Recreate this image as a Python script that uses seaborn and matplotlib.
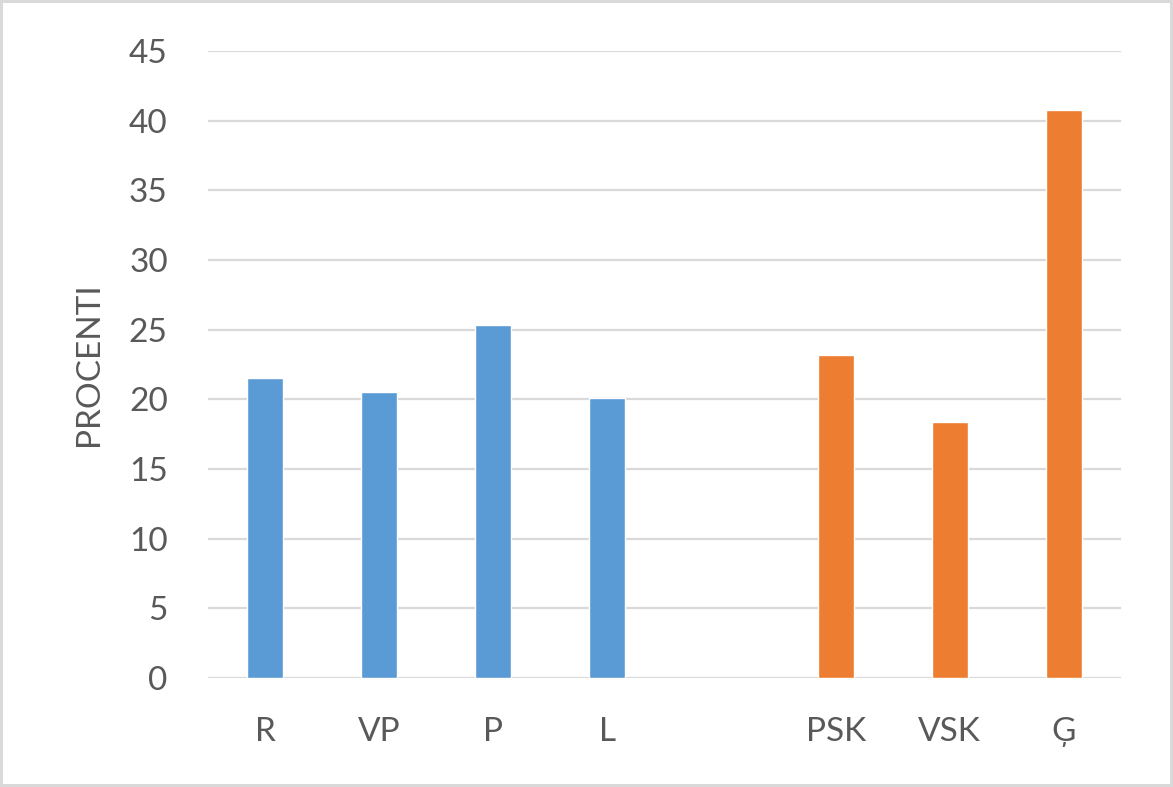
import matplotlib
matplotlib.use("Agg")
import matplotlib.pyplot as plt
import seaborn as sns
import pandas as pd

categories = ["R", "VP", "P", "L", "PSK", "VSK", "Ģ"]
values = [21.5, 20.5, 25.3, 20.1, 23.2, 18.4, 40.75]
groups = ["A", "A", "A", "A", "B", "B", "B"]
order = ["R", "VP", "P", "L", " ", "PSK", "VSK", "Ģ"]
yticks = [0, 5, 10, 15, 20, 25, 30, 35, 40, 45]

sns.set_theme(style="white")
plt.rcParams['font.family'] = ['Lato', 'DejaVu Sans']

df = pd.DataFrame({"cat": categories, "val": values, "grp": groups})

fig = plt.figure(figsize=(11.73, 7.87), dpi=100, edgecolor="#d9d9d9", linewidth=3)
ax = fig.add_axes([208/1173, 1-678/787, (1121-208)/1173, (678-51)/787])

sns.barplot(data=df, x="cat", y="val", hue="grp", order=order,
            palette={"A": "#5B9BD5", "B": "#ED7D31"}, dodge=False, saturation=1,
            width=0.316, legend=False, ax=ax, zorder=3)

ax.set_ylim(0, 45)
ax.set_xlim(-0.5, 7.5)
ax.set_yticks(yticks)
ax.set_yticklabels([str(t) for t in yticks])
ax.grid(axis="y", color="#d9d9d9", linewidth=1.6, zorder=0)
ax.set_axisbelow(True)
for s in ax.spines.values():
    s.set_visible(False)
ax.tick_params(axis="y", length=0, pad=29, labelsize=24, labelcolor="#595959")
ax.tick_params(axis="x", length=0, pad=28, labelsize=24, labelcolor="#595959")
ax.set_xlabel("")
ax.set_ylabel("PROCENTI", fontsize=24, color="#595959", labelpad=18)

fig.savefig("out.png", dpi=100, edgecolor=fig.get_edgecolor())
